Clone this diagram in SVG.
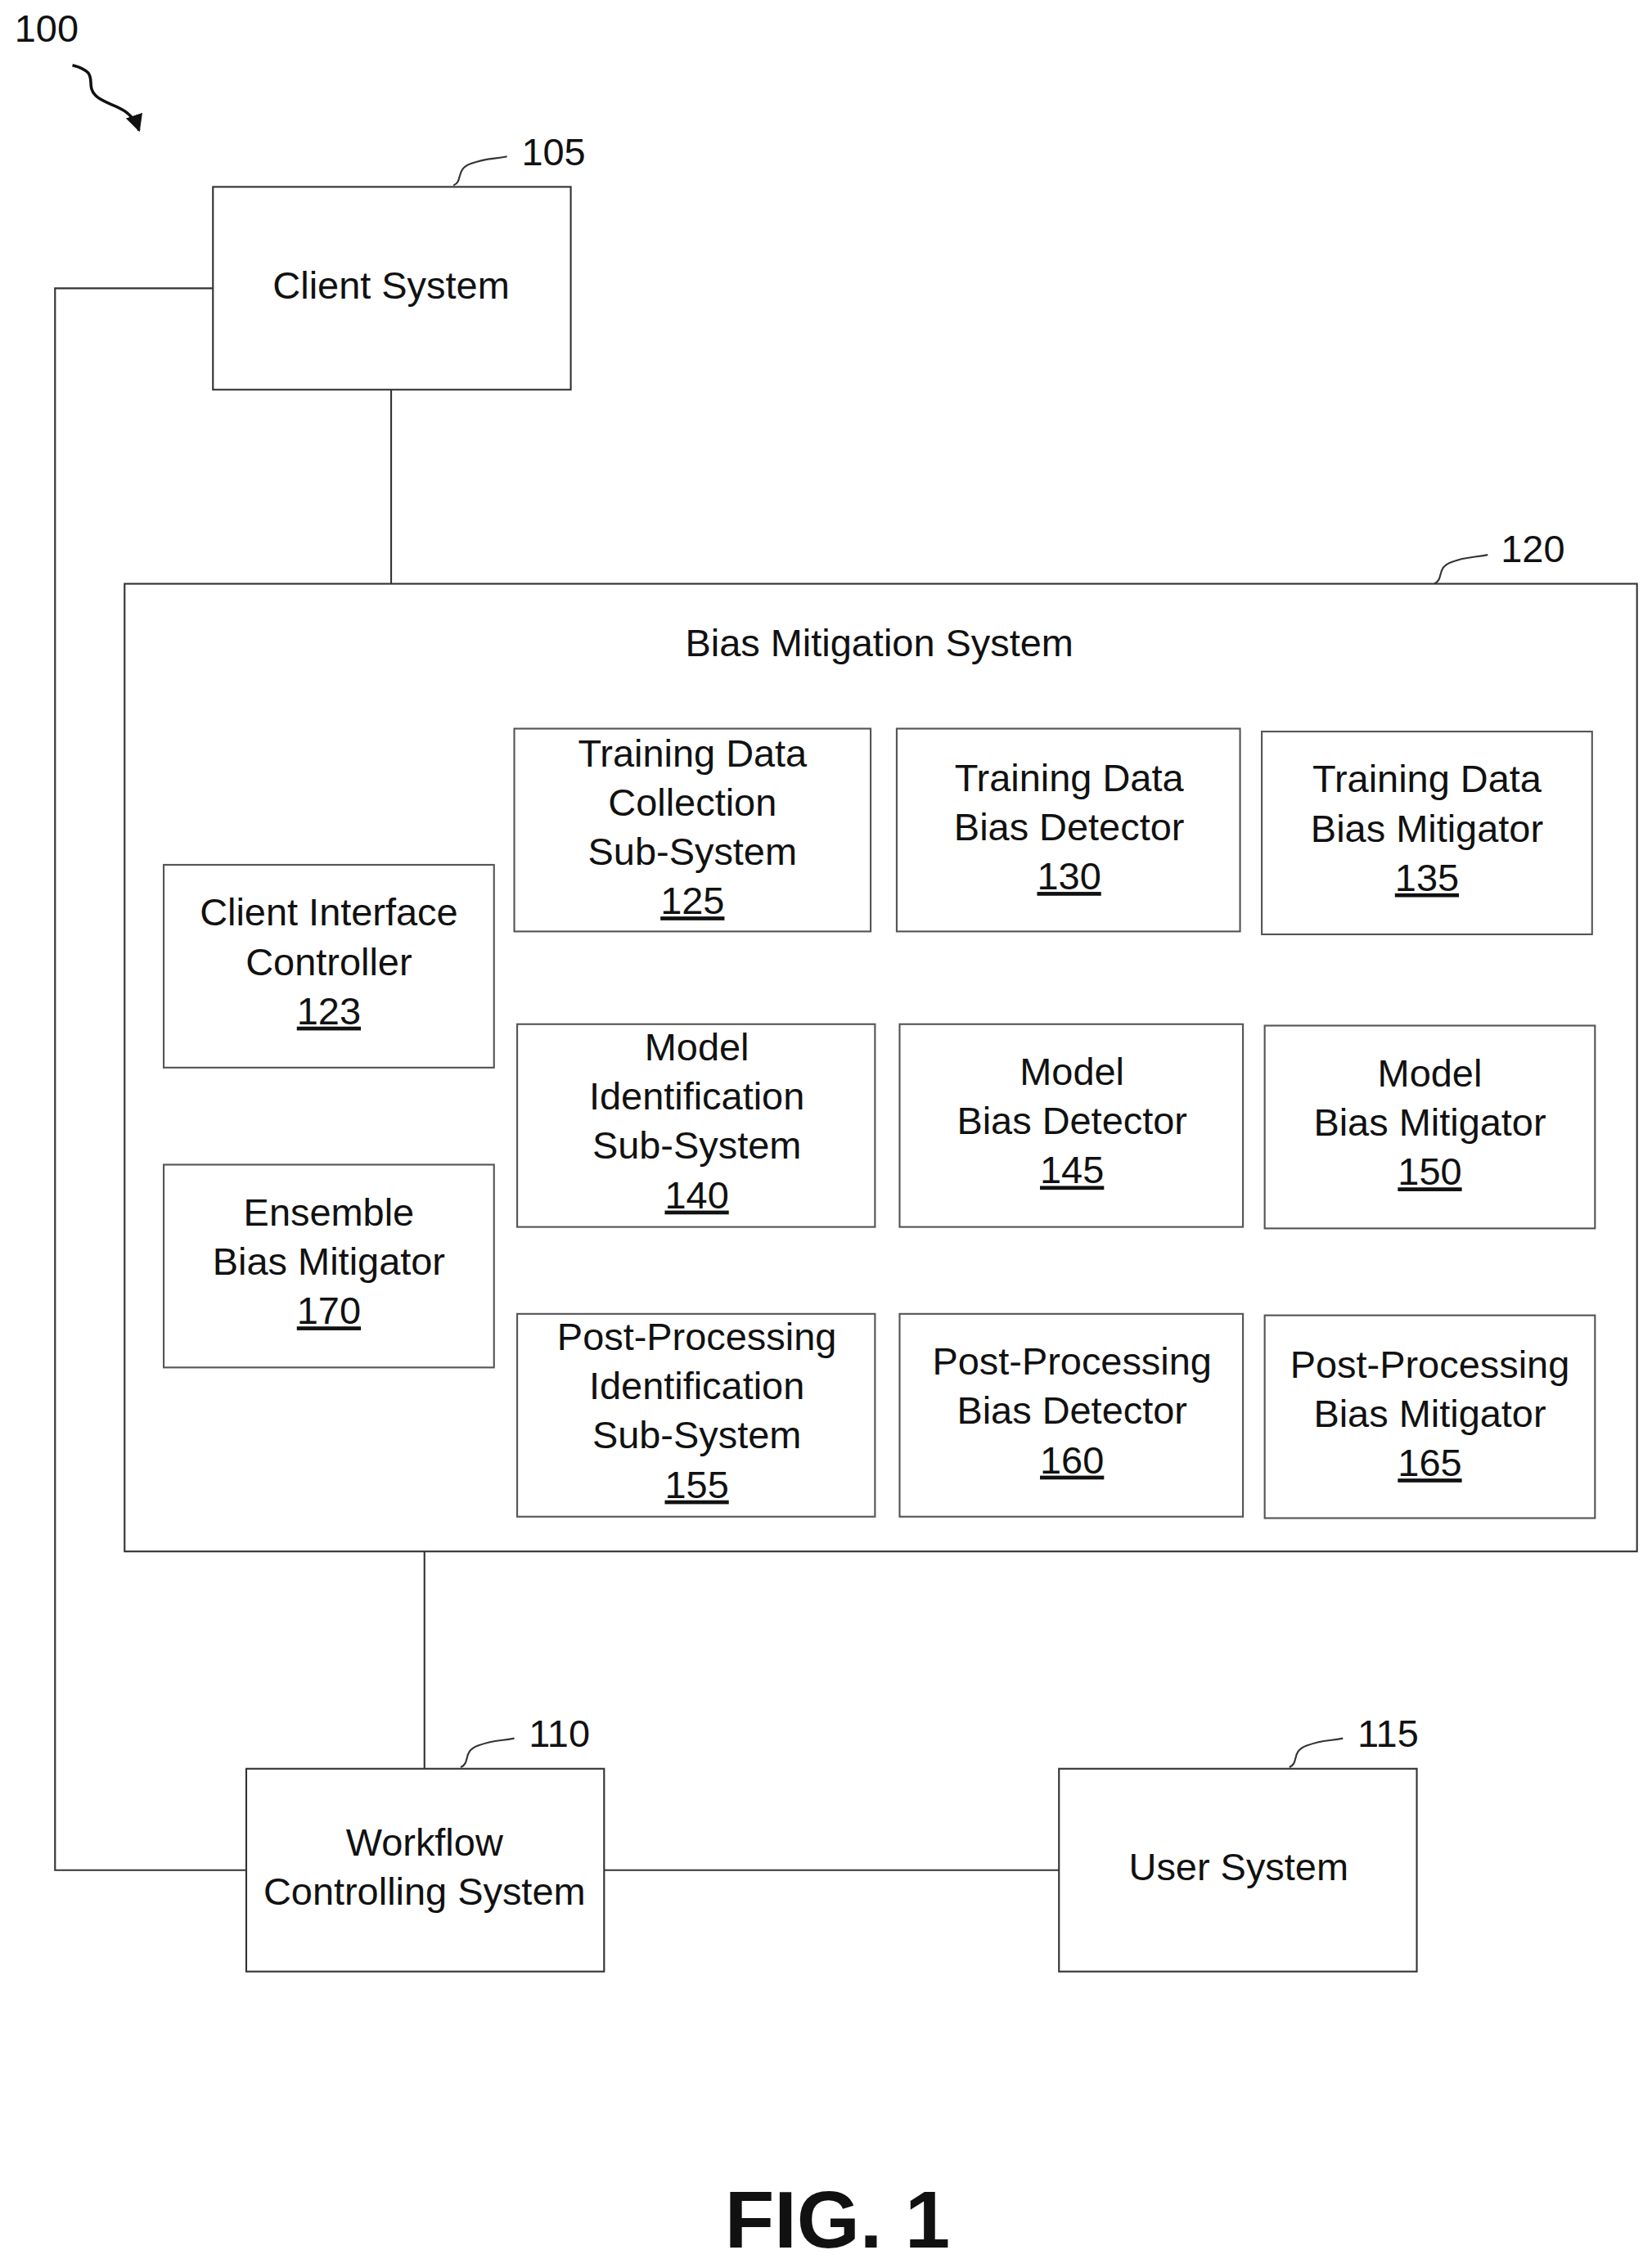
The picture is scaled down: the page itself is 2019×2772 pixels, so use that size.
<svg xmlns="http://www.w3.org/2000/svg" width="2019" height="2772" viewBox="0 0 2019 2772">
<style>
text{font-family:"Liberation Sans",Arial,sans-serif;font-size:26.5px;fill:#111;text-anchor:middle;dominant-baseline:middle}
.n{text-decoration:underline}
.b{fill:#fff;stroke:#333;stroke-width:1.2}
.i{fill:#fff;stroke:#555;stroke-width:1.2}
.l{fill:none;stroke:#333;stroke-width:1.2}
.ref{text-anchor:start}
</style>
<defs><marker id="ah" viewBox="0 0 10 10" refX="9" refY="5" markerWidth="6" markerHeight="6" orient="auto"><path d="M0,0L10,5L0,10z" fill="#111"/></marker></defs>
<rect width="2019" height="2772" fill="#fff"/>
<g transform="scale(1.7705)">
<g id="connectors">
<path class="l" d="M270,269V403"/>
<path class="l" d="M147,199H38V1291H170"/>
<path class="l" d="M293,1071V1221"/>
<path class="l" d="M417,1291H731"/>
</g>
<g id="n100"><text class="ref" x="10" y="22">100</text><path d="M50,45C70,50 58,58 66,66S90,72 96,90" fill="none" stroke="#111" stroke-width="2" marker-end="url(#ah)"/></g>
<g id="n105"><rect class="b" x="147" y="129" width="247" height="140"/><text x="270" y="199">Client System</text><text class="ref" x="360" y="107">105</text><path class="l" d="M313,128C320,125 314,117 325,113S340,110 350,108"/></g>
<g id="n120"><rect class="b" x="86" y="403" width="1044" height="668"/><text x="607" y="446">Bias Mitigation System</text><text class="ref" x="1036" y="381">120</text><path class="l" d="M990,403C997,400 991,392 1002,388S1017,385 1027,383"/></g>
<g id="n123"><rect class="i" x="113" y="597" width="228" height="140"/><text x="227" y="632">Client Interface</text><text x="227" y="666">Controller</text><text class="n" x="227" y="700">123</text></g>
<g id="n170"><rect class="i" x="113" y="804" width="228" height="140"/><text x="227" y="839">Ensemble</text><text x="227" y="873">Bias Mitigator</text><text class="n" x="227" y="907">170</text></g>
<g id="n125"><rect class="i" x="355" y="503" width="246" height="140"/><text x="478" y="522">Training Data</text><text x="478" y="556">Collection</text><text x="478" y="590">Sub-System</text><text class="n" x="478" y="624">125</text></g>
<g id="n130"><rect class="i" x="619" y="503" width="237" height="140"/><text x="738" y="539">Training Data</text><text x="738" y="573">Bias Detector</text><text class="n" x="738" y="607">130</text></g>
<g id="n135"><rect class="i" x="871" y="505" width="228" height="140"/><text x="985" y="540">Training Data</text><text x="985" y="574">Bias Mitigator</text><text class="n" x="985" y="608">135</text></g>
<g id="n140"><rect class="i" x="357" y="707" width="247" height="140"/><text x="481" y="725">Model</text><text x="481" y="759">Identification</text><text x="481" y="793">Sub-System</text><text class="n" x="481" y="827">140</text></g>
<g id="n145"><rect class="i" x="621" y="707" width="237" height="140"/><text x="740" y="742">Model</text><text x="740" y="776">Bias Detector</text><text class="n" x="740" y="810">145</text></g>
<g id="n150"><rect class="i" x="873" y="708" width="228" height="140"/><text x="987" y="743">Model</text><text x="987" y="777">Bias Mitigator</text><text class="n" x="987" y="811">150</text></g>
<g id="n155"><rect class="i" x="357" y="907" width="247" height="140"/><text x="481" y="925">Post-Processing</text><text x="481" y="959">Identification</text><text x="481" y="993">Sub-System</text><text class="n" x="481" y="1027">155</text></g>
<g id="n160"><rect class="i" x="621" y="907" width="237" height="140"/><text x="740" y="942">Post-Processing</text><text x="740" y="976">Bias Detector</text><text class="n" x="740" y="1010">160</text></g>
<g id="n165"><rect class="i" x="873" y="908" width="228" height="140"/><text x="987" y="944">Post-Processing</text><text x="987" y="978">Bias Mitigator</text><text class="n" x="987" y="1012">165</text></g>
<g id="n110"><rect class="b" x="170" y="1221" width="247" height="140"/><text x="293" y="1274">Workflow</text><text x="293" y="1308">Controlling System</text><text class="ref" x="365" y="1199">110</text><path class="l" d="M318,1220C325,1217 319,1209 330,1205S345,1202 355,1200"/></g>
<g id="n115"><rect class="b" x="731" y="1221" width="247" height="140"/><text x="855" y="1291">User System</text><text class="ref" x="937" y="1199">115</text><path class="l" d="M890,1220C897,1217 891,1209 902,1205S917,1202 927,1200"/></g>
<text x="578" y="1537" style="font-size:56px;font-weight:bold">FIG. 1</text>
</g>
</svg>
